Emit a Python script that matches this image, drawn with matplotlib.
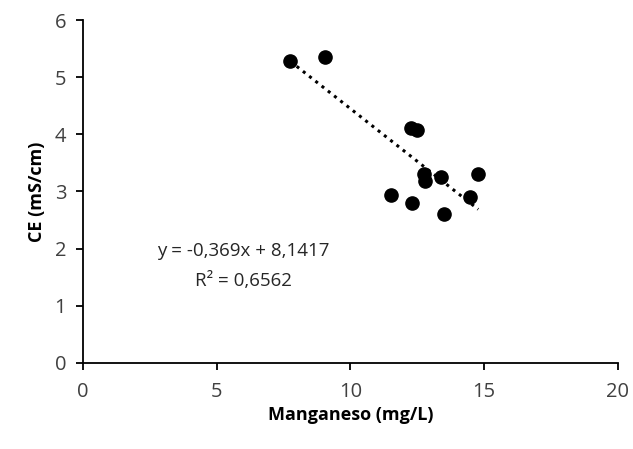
import matplotlib
matplotlib.use("Agg")
import matplotlib.pyplot as plt
import numpy as np

plt.rcParams['font.family'] = ['Open Sans', 'DejaVu Sans']

manganeso = [7.76, 9.07, 12.28, 12.5, 12.76, 12.8, 13.4, 14.78, 11.53, 12.31, 13.5, 14.48]
ce = [5.28, 5.35, 4.11, 4.07, 3.30, 3.18, 3.25, 3.30, 2.94, 2.80, 2.60, 2.90]
slope = -0.369
intercept = 8.1417
eq_text = "y = -0,369x + 8,1417"
r2_text = "R² = 0,6562"
x_ticks = [0, 5, 10, 15, 20]
y_ticks = [0, 1, 2, 3, 4, 5, 6]

fig = plt.figure(figsize=(6.33, 4.49), dpi=100)
ax = fig.add_axes([0.131, 0.192, 0.845, 0.763])

ax.plot(manganeso, ce, 'o', color='black', markersize=9.5, zorder=3)
xs = np.array([min(manganeso), max(manganeso)])
ax.plot(xs, slope * xs + intercept, color='black', linestyle=(0, (1, 1.6)), linewidth=2.2, zorder=2)

ax.set_xlim(0, 20)
ax.set_ylim(0, 6)
ax.set_xticks(x_ticks)
ax.set_yticks(y_ticks)
for s in ['top', 'right']:
    ax.spines[s].set_visible(False)
for s in ['left', 'bottom']:
    ax.spines[s].set_linewidth(1.3)
ax.tick_params(axis='both', labelsize=14.5, length=5, width=1.3, colors='black', labelcolor='#404040')
ax.tick_params(axis='x', pad=9)
ax.tick_params(axis='y', pad=7)
ax.set_xlabel("Manganeso (mg/L)", fontsize=13, fontweight='bold', labelpad=3)
ax.set_ylabel("CE (mS/cm)", fontsize=13, fontweight='bold', labelpad=6)

ax.text(6.0, 1.96, eq_text, fontsize=13.5, ha='center', va='center', color='#262626')
ax.text(6.0, 1.43, r2_text, fontsize=13.5, ha='center', va='center', color='#262626')

fig.savefig("out.png", dpi=100)
